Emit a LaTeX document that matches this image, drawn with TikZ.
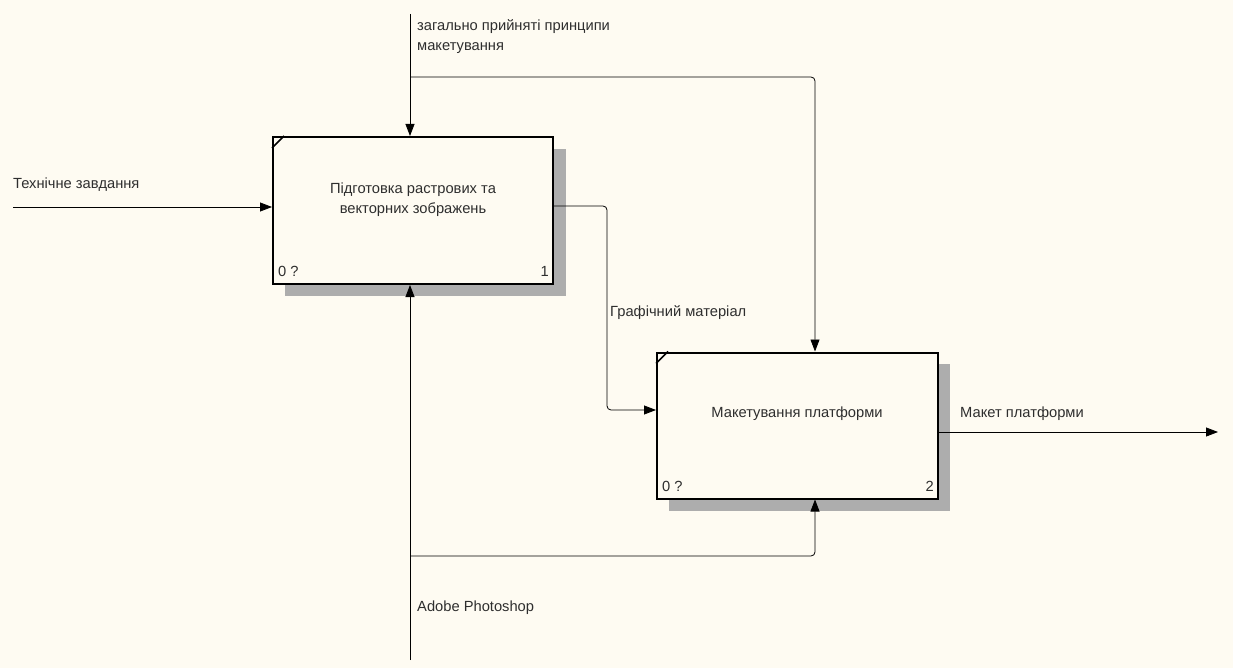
\documentclass[tikz,border=0pt]{standalone}
\usepackage{fontspec}
\setmainfont{Liberation Sans}
\usetikzlibrary{arrows.meta}
\definecolor{paper}{HTML}{FEFBF2}
\definecolor{ink}{HTML}{2E2E2E}
\begin{document}
\begin{tikzpicture}[x=1pt,y=-1pt,
  font=\fontsize{14.7}{20}\selectfont,
  actbox/.style={draw=black,line width=2pt,fill=paper,rectangle,inner sep=0pt},
  shade/.style={fill=black!32},
  arr/.style={draw=black,line width=0.8pt,-{Triangle[length=12pt,width=9pt]}},
  lbl/.style={text=ink,anchor=west,inner sep=0pt,align=left},
  btext/.style={text=ink,align=center,inner sep=0pt},
  corner/.style={text=ink,inner sep=0pt}]
% page
\fill[paper] (0,0) rectangle (1233,668);
\useasboundingbox (0,0) rectangle (1233,668);

% shadows behind the activity boxes
\fill[shade] (285,149) rectangle (566,296);
\fill[shade] (669,364) rectangle (950,511);

% activity boxes
\node[actbox,minimum width=280pt,minimum height=147pt] (box1) at (413,210.5) {};
\node[actbox,minimum width=281pt,minimum height=146pt] (box2) at (797.5,425.5) {};

% corner ticks
\draw[line width=1.6pt] ([yshift=-12pt]box1.north west) -- ([xshift=12pt]box1.north west);
\draw[line width=1.6pt] ([yshift=-12pt]box2.north west) -- ([xshift=12pt]box2.north west);

% box texts
\node[btext] (t1) at (413,200) {Підготовка растрових та\\векторних зображень};
\node[btext] (t2) at (797,414) {Макетування платформи};
\node[corner,anchor=west] (n1a) at (278,271) {0 ?};
\node[corner,anchor=east] (n1b) at (549,271) {1};
\node[corner,anchor=west] (n2a) at (662,486) {0 ?};
\node[corner,anchor=east] (n2b) at (934,486) {2};

% free ends and branch points
\coordinate (ctop) at (410,14);
\coordinate (cfork) at (410,77);
\coordinate (ccol) at (815,0);
\coordinate (mbot) at (410,660);
\coordinate (mfork) at (410,556);
\coordinate (inl) at (13,207);
\coordinate (outr) at (1218,432);
\coordinate (gcol) at (607,0);
\coordinate (g1) at (0,206);
\coordinate (g2) at (0,410);

% input
\draw[arr] (inl) -- (inl -| box1.west);
% control: shared principles
\draw[arr] (ctop) -- (ctop |- box1.north);
\draw[arr,rounded corners=4pt] (cfork) -| (ccol |- box2.north);
% mechanism: Adobe Photoshop
\draw[arr] (mbot) -- (mbot |- box1.south);
\draw[arr,rounded corners=4pt] (mfork) -| (ccol |- box2.south);
% graphic material between the boxes
\draw[arr,rounded corners=4pt] (g1 -| box1.east) -| (gcol |- g2) -- (g2 -| box2.west);
% output
\draw[arr] (outr -| box2.east) -- (outr);

% arrow labels
\node[lbl] (l1) at (13,185) {Технічне завдання};
\node[lbl] (l2) at (417,37) {загально прийняті принципи\\макетування};
\node[lbl] (l3) at (610,313) {Графічний матеріал};
\node[lbl] (l4) at (960,414) {Макет платформи};
\node[lbl] (l5) at (417,608) {Adobe Photoshop};
\end{tikzpicture}
\end{document}
